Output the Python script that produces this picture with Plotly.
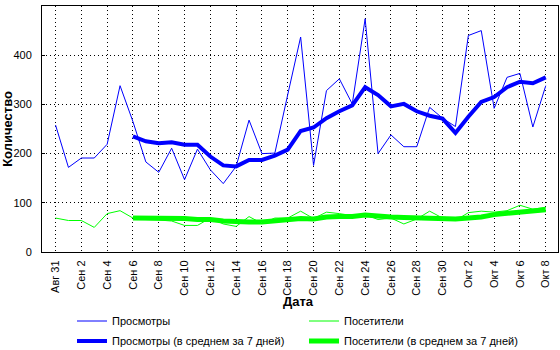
import plotly.graph_objects as go

tick_days = list(range(0, 39, 2))
tick_labels = ["Авг 31", "Сен 2", "Сен 4", "Сен 6", "Сен 8", "Сен 10", "Сен 12", "Сен 14",
               "Сен 16", "Сен 18", "Сен 20", "Сен 22", "Сен 24", "Сен 26", "Сен 28", "Сен 30",
               "Окт 2", "Окт 4", "Окт 6", "Окт 8"]

days = list(range(39))

views = [258, 172, 191, 191, 219, 338, 265, 183, 162, 211, 147, 209, 167, 139, 174, 268,
         200, 201, 320, 437, 176, 328, 352, 301, 474, 200, 238, 214, 214, 294, 272, 255,
         440, 450, 292, 355, 363, 254, 338]

visitors = [69, 64, 64, 50, 78, 84, 69, 66, 65, 63, 54, 54, 69, 57, 52, 72,
            58, 69, 69, 83, 68, 81, 78, 74, 76, 66, 69, 57, 67, 83, 69, 64,
            80, 83, 81, 84, 95, 87, 91]

avg_days = list(range(6, 39))
views_avg = [235, 225, 221, 223, 218, 218, 194, 176, 174, 187, 187, 196, 208, 246, 253, 272,
             286, 298, 335, 319, 296, 301, 286, 277, 271, 242, 275, 305, 315, 335, 346, 343, 355]
visitors_avg = [69, 69, 69, 69, 68, 66, 66, 63, 61, 61, 61, 64, 66, 68, 67, 71,
                72, 72, 75, 72, 71, 70, 69, 69, 68, 67, 69, 71, 76, 79, 82, 83, 86]

BLUE = "#0000ff"
GREEN = "#00ff00"

fig = go.Figure()
fig.add_trace(go.Scatter(x=days, y=views, mode="lines", name="Просмотры",
                         line=dict(color=BLUE, width=1), legend="legend"))
fig.add_trace(go.Scatter(x=days, y=visitors, mode="lines", name="Посетители",
                         line=dict(color=GREEN, width=1), legend="legend"))
fig.add_trace(go.Scatter(x=avg_days, y=views_avg, mode="lines", name="Просмотры (в среднем за 7 дней)",
                         line=dict(color=BLUE, width=4), legend="legend2"))
fig.add_trace(go.Scatter(x=avg_days, y=visitors_avg, mode="lines", name="Посетители (в среднем за 7 дней)",
                         line=dict(color=GREEN, width=5), legend="legend2"))

FAM = "Liberation Sans, Arial, sans-serif"
font = dict(family=FAM, size=11, color="#000000")
leg_common = dict(orientation="h", xanchor="left", yanchor="middle", entrywidth=187,
                  entrywidthmode="pixels", font=font, bgcolor="rgba(0,0,0,0)",
                  itemwidth=30, borderwidth=0, xref="container", yref="container")

fig.update_layout(
    width=560, height=350,
    margin=dict(l=42, r=2, t=6, b=98, autoexpand=False),
    paper_bgcolor="white", plot_bgcolor="white",
    font=font,
    legend=dict(x=72 / 560, y=1 - 321 / 350, **leg_common),
    legend2=dict(x=72 / 560, y=1 - 341 / 350, **leg_common),
    xaxis=dict(range=[-1.05, 38.95], tickmode="array", tickvals=tick_days, ticktext=tick_labels,
               tickangle=-90, showgrid=True, gridcolor="#000000", griddash="1px,3px", gridwidth=1,
               showline=True, linecolor="#000000", linewidth=1, mirror=True, ticks="",
               ticklabelstandoff=3,
               zeroline=False, tickfont=font, automargin=True),
    yaxis=dict(range=[0, 500], tickvals=[0, 100, 200, 300, 400, 500], showgrid=True,
               gridcolor="#000000", griddash="1px,3px", gridwidth=1, showline=True, linecolor="#000000",
               linewidth=1, mirror=True, ticks="inside", ticklen=3, tickcolor="#000", zeroline=False,
               tickfont=font, automargin=True, ticklabelstandoff=7,
               title=dict(text="<b>Количество</b>", font=dict(family=FAM, size=13, color="#000"), standoff=5)),
    annotations=[dict(text="<b>Дата</b>", xref="paper", yref="paper", x=(298 - 42) / 516,
                      y=-(301 - 252) / 246, xanchor="center", yanchor="middle", showarrow=False,
                      font=dict(family=FAM, size=13, color="#000"))],
)

fig.write_html("out.html")
